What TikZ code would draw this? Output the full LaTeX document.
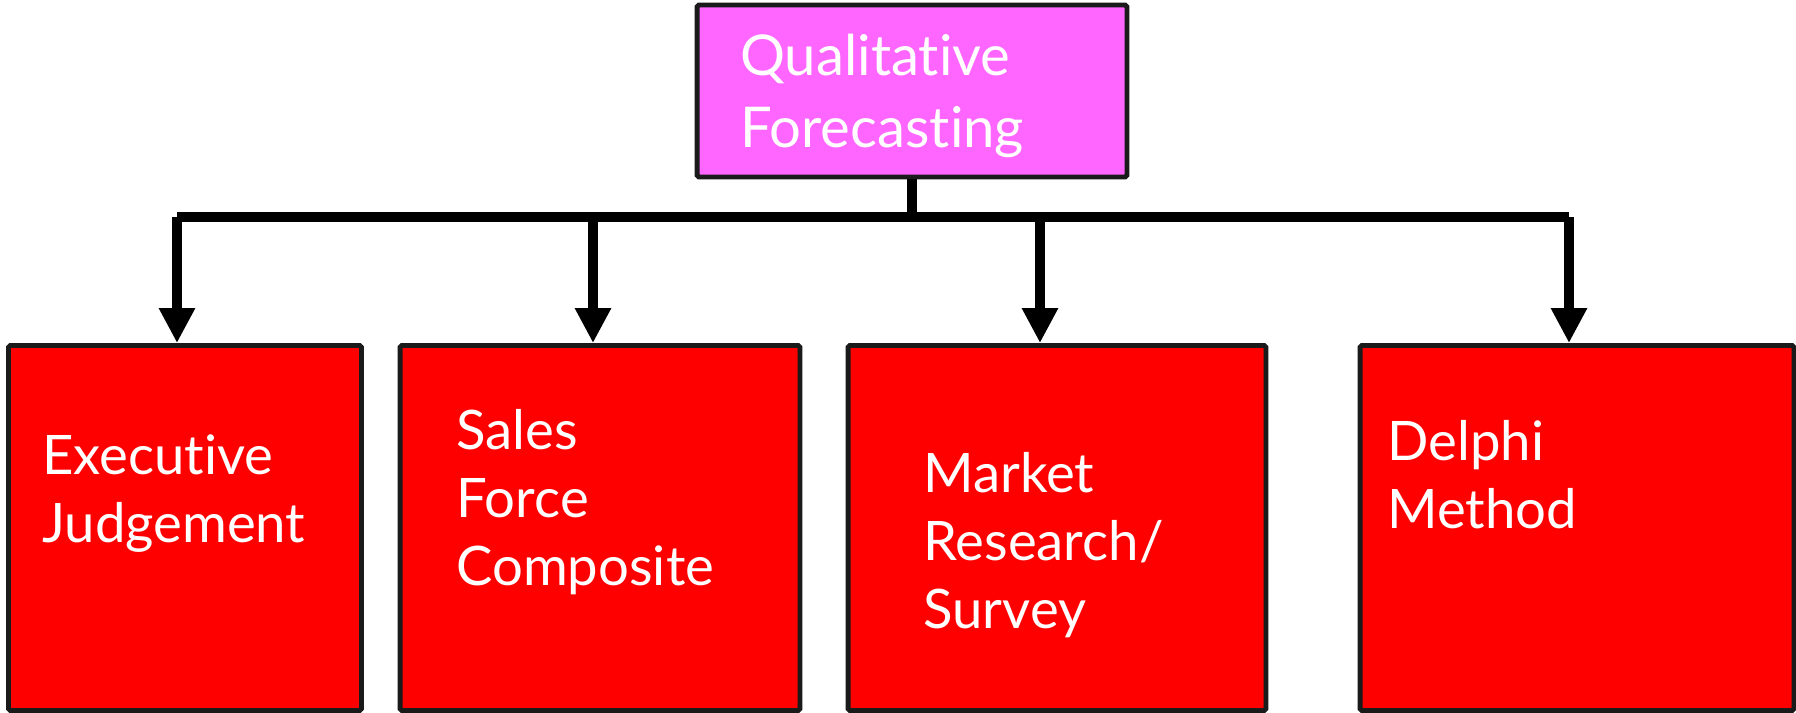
\documentclass[tikz,border=0pt]{standalone}
\usepackage{fontspec}
\setmainfont{Lato}[Ligatures = NoCommon]
\usetikzlibrary{arrows.meta}
\definecolor{boxred}{HTML}{FF0000}
\definecolor{boxpink}{HTML}{FF66FF}
\definecolor{boxedge}{HTML}{1A1A1A}

\tikzset{
  box/.style = {draw = boxedge, line width = 2.8pt, rounded corners = 1pt,
    inner sep = 0pt, minimum height = 7.3cm},
  lbl/.style = {text = white, anchor = base west, align = left, inner sep = 0pt,
    font = \fontsize{31}{38.5}\selectfont},
  wire/.style = {line width = 5.6pt},
  branch/.style = {wire, -{Triangle[width = 0.68cm, length = 0.7cm]}}
}

\begin{document}
\begin{tikzpicture}[x = 0.02cm, y = -0.02cm]
\useasboundingbox (0,0) rectangle (1796,713);

% boxes
\node[box, fill = boxpink, minimum width = 8.6cm, minimum height = 3.44cm] (qual) at (912,91) {};
\node[box, fill = boxred, minimum width = 7.06cm] (exec) at (185,528) {};
\node[box, fill = boxred, minimum width = 8cm] (sales) at (600,528) {};
\node[box, fill = boxred, minimum width = 8.36cm] (market) at (1057,528) {};
\node[box, fill = boxred, minimum width = 8.68cm] (delphi) at (1577,528) {};

% labels (base = last line)
\node[lbl, font = \fontsize{32}{41.5}\selectfont] (qualtxt) at (740,148) {Qualitative\\Forecasting};
\node[lbl] (exectxt) at (42,542) {Executive\\Judgement};
\node[lbl] (salestxt) at (456,585) {Sales\\Force\\Composite};
\node[lbl] (markettxt) at (923,628) {Market\\Research/\\Survey};
\node[lbl] (delphitxt) at (1387,528) {Delphi\\Method};

% connectors
\coordinate (b1) at (177,217);
\coordinate (b2) at (593,217);
\coordinate (b3) at (1040,217);
\coordinate (b4) at (1569,217);
\draw[wire] (qual.south) -- (qual.south |- b1);
\draw[wire] (b1) -- (b4);
\draw[branch] (b1) -- (b1 |- exec.north);
\draw[branch] (b2) -- (b2 |- sales.north);
\draw[branch] (b3) -- (b3 |- market.north);
\draw[branch] (b4) -- (b4 |- delphi.north);
\end{tikzpicture}
\end{document}
